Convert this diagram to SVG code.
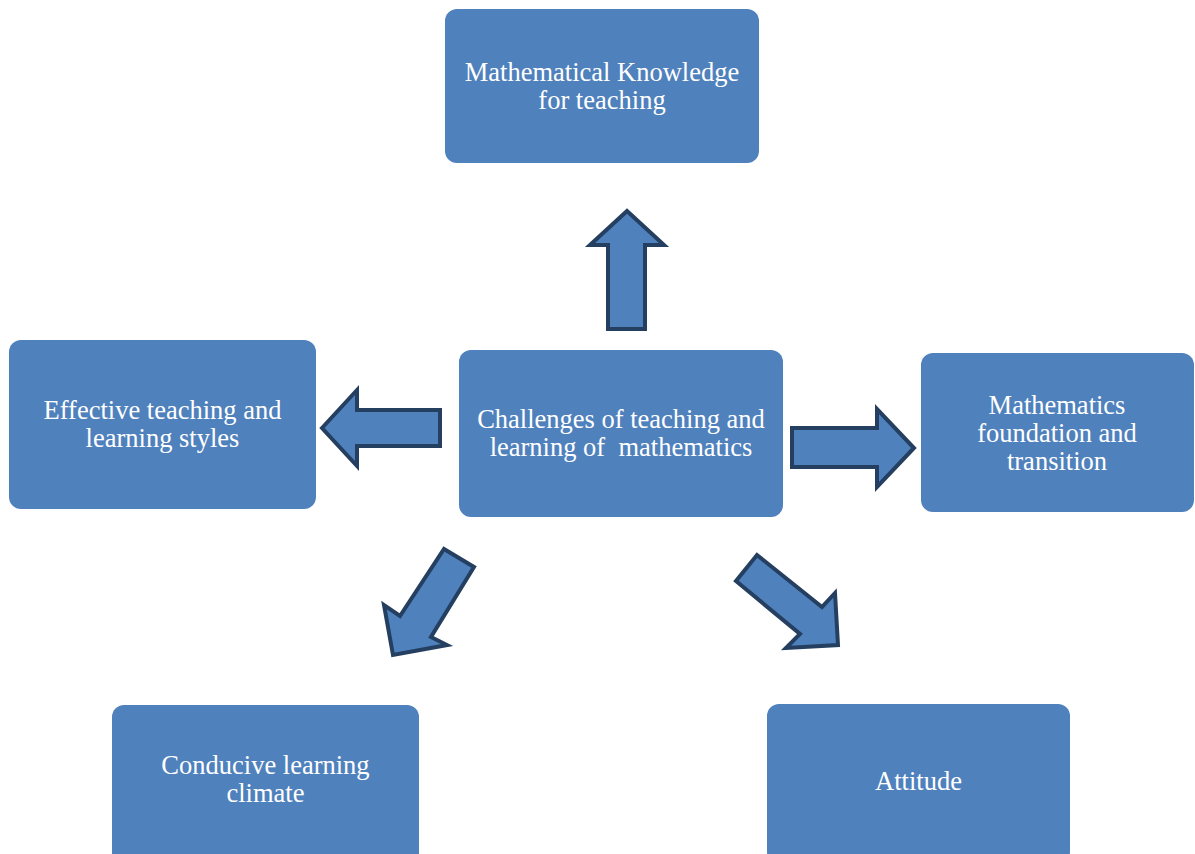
<svg xmlns="http://www.w3.org/2000/svg" width="1195" height="854" viewBox="0 0 1195 854">
<style>
.box{fill:#4f81bd;}
.lbl{font-family:"Liberation Serif","Times New Roman",serif;font-size:26.5px;fill:#ffffff;text-anchor:middle;}
.arr{fill:#4f81bd;stroke:#243f60;stroke-width:4;stroke-linejoin:miter;}
</style>
<rect width="1195" height="854" fill="#ffffff"/>
<g id="connectors">
<polygon class="arr" points="627,211 590,245 608,245 608,329 645,329 645,245 664,245"/>
<polygon class="arr" points="322,428 357,390 357,410 440,410 440,446 357,446 357,466"/>
<polygon class="arr" points="792,428 877,428 877,409 914,448 877,487 877,467 792,467"/>
<polygon class="arr" points="444,549 474,567 431,637 447,645 393,655 384,605 400,616"/>
<polygon class="arr" points="757,555 822,607 835,593 838,645 786,648 800,634 736,581"/>
</g>
<g id="node-top">
<rect class="box" x="445" y="9" width="314" height="154" rx="12"/>
<text class="lbl" x="602" y="81">Mathematical Knowledge</text>
<text class="lbl" x="602" y="109">for teaching</text>
</g>
<g id="node-center">
<rect class="box" x="459" y="350" width="324" height="167" rx="12"/>
<text class="lbl" x="621" y="428">Challenges of teaching and</text>
<text class="lbl" x="621" y="456" xml:space="preserve">learning of  mathematics</text>
</g>
<g id="node-left">
<rect class="box" x="9" y="340" width="307" height="169" rx="12"/>
<text class="lbl" x="162.5" y="419">Effective teaching and</text>
<text class="lbl" x="162.5" y="447">learning styles</text>
</g>
<g id="node-right">
<rect class="box" x="921" y="353" width="273" height="159" rx="12"/>
<text class="lbl" x="1057" y="414">Mathematics</text>
<text class="lbl" x="1057" y="442">foundation and</text>
<text class="lbl" x="1057" y="470">transition</text>
</g>
<g id="node-bottom-left">
<rect class="box" x="112" y="705" width="307" height="160" rx="12"/>
<text class="lbl" x="265.5" y="774">Conducive learning</text>
<text class="lbl" x="265.5" y="802">climate</text>
</g>
<g id="node-bottom-right">
<rect class="box" x="767" y="704" width="303" height="160" rx="12"/>
<text class="lbl" x="918.5" y="790">Attitude</text>
</g>
</svg>
